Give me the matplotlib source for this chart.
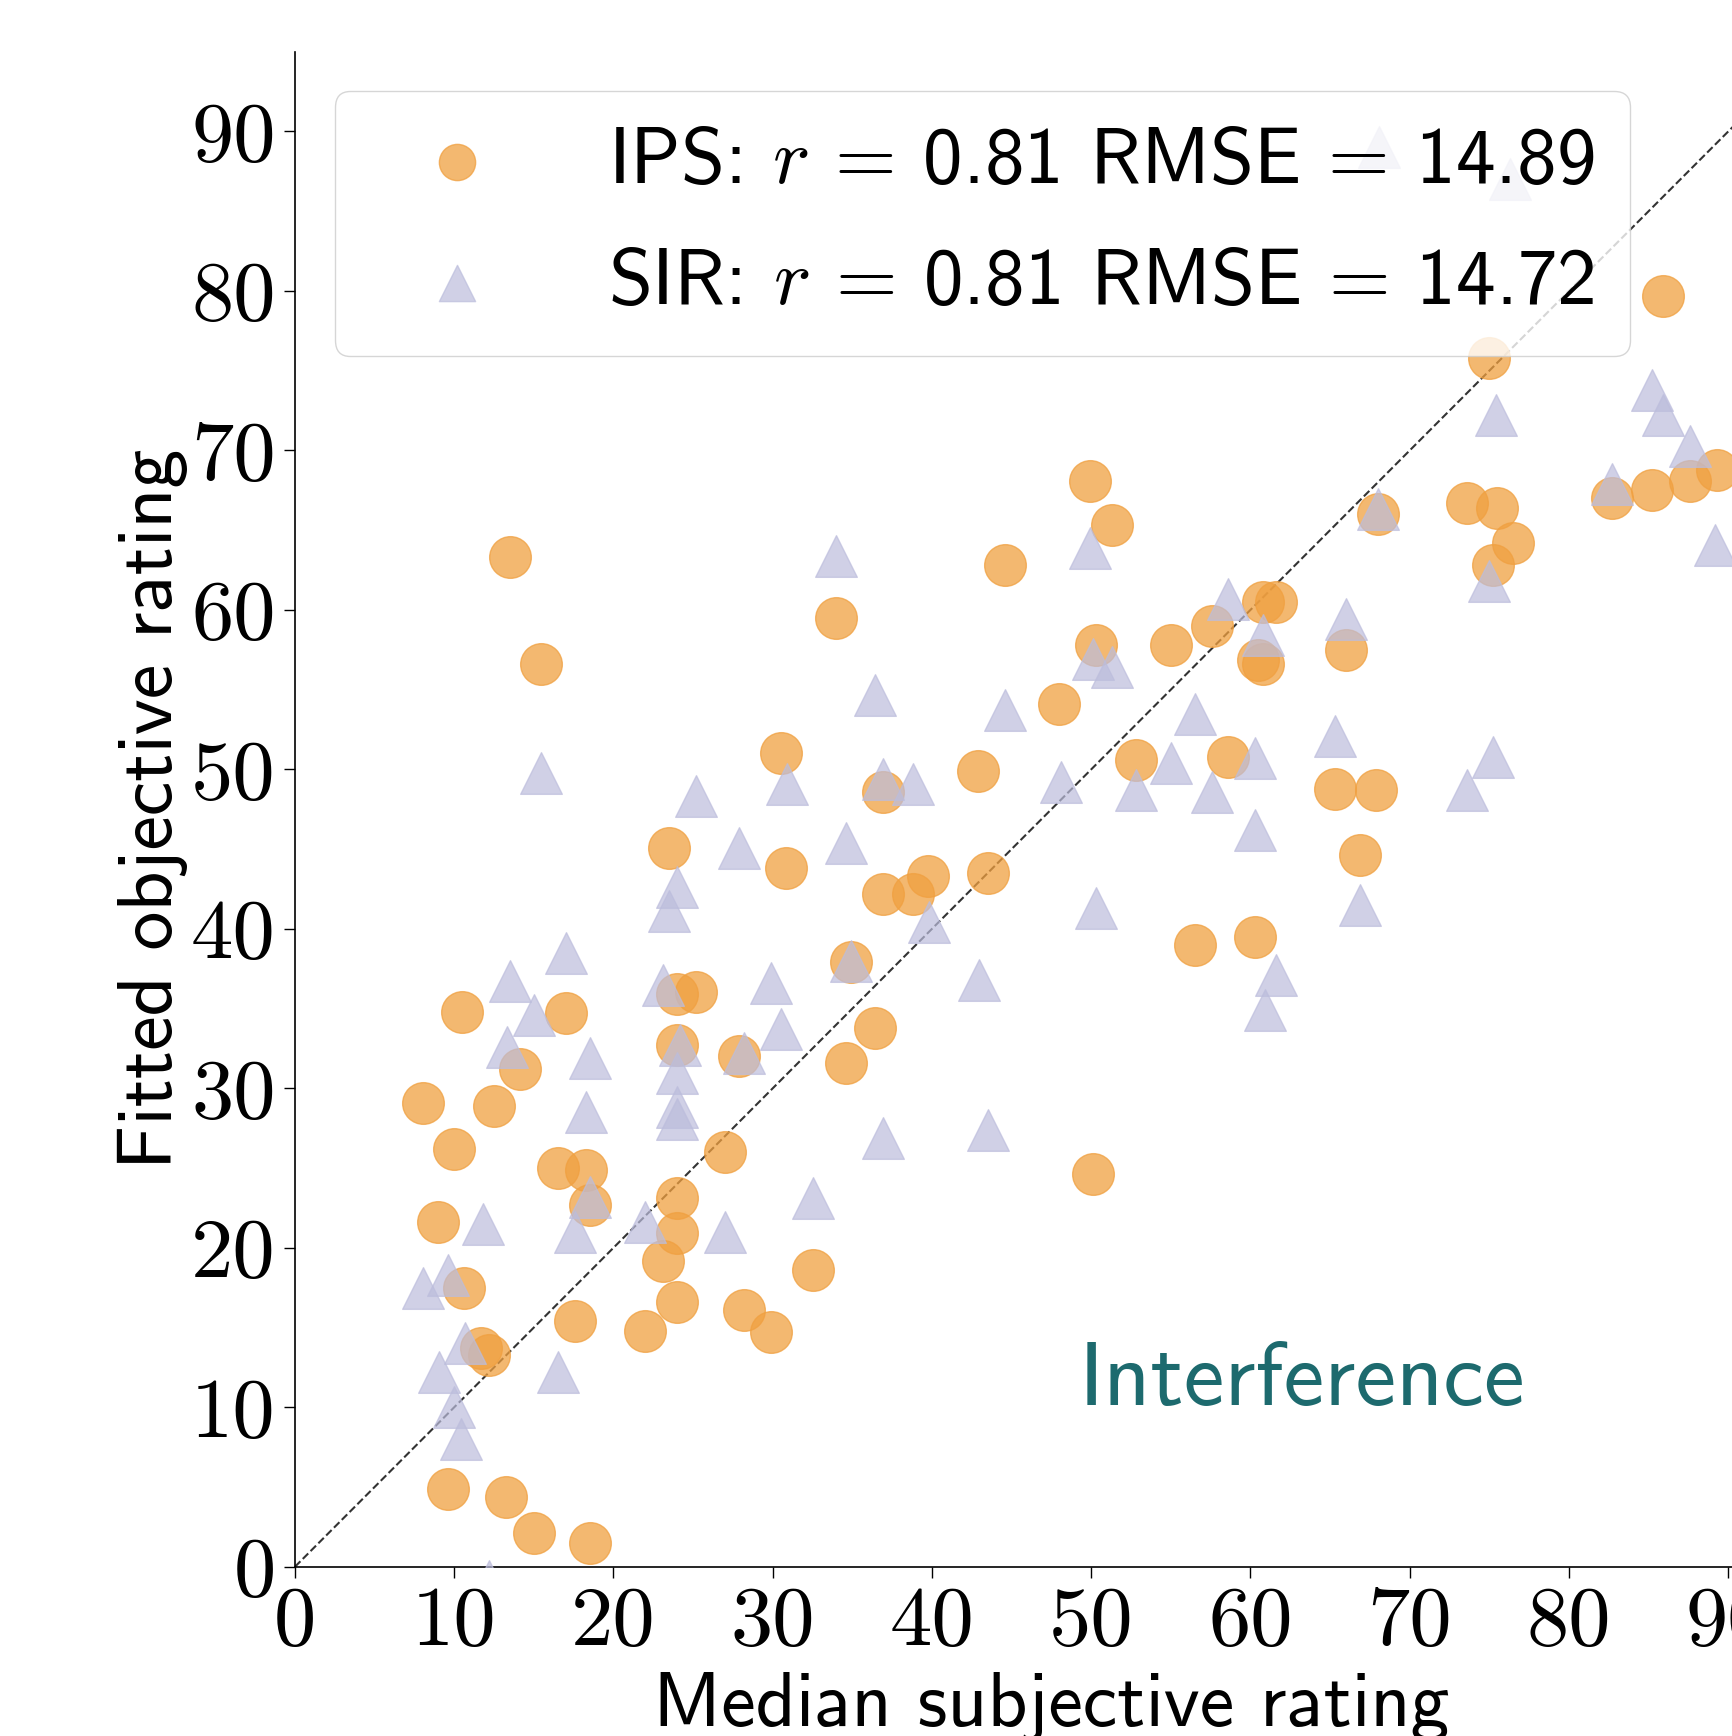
import numpy as np
import matplotlib
matplotlib.use('Agg')
import matplotlib.pyplot as plt

plt.rcParams['font.family'] = 'cmss10'
plt.rcParams['mathtext.fontset'] = 'cm'
plt.rcParams['axes.unicode_minus'] = False

# IPS fitted ratings (orange circles)
ips_x = [13.5, 15.45, 34.0, 49.9, 51.3, 44.6, 50.3, 55.0, 57.6, 60.5, 60.8, 60.8, 61.6,
         66.0, 68.0, 73.6, 75.5, 76.5, 75.2, 75.0, 85.9, 82.7, 85.2, 87.6, 89.3, 48.0,
         52.8, 58.6, 65.3, 67.9, 66.9, 56.5, 60.3, 50.1, 42.9, 43.5, 39.75, 38.8, 36.9,
         36.9, 30.55, 30.85, 34.9, 36.4, 34.6, 23.5, 24.0, 25.2, 24.0, 27.0, 27.9, 24.0,
         24.0, 23.1, 24.0, 22.0, 28.2, 29.9, 32.5, 17.6, 17.0, 16.5, 18.25, 18.5, 14.1,
         12.5, 10.5, 8.05, 10.0, 9.0, 10.6, 11.7, 12.2, 9.6, 13.25, 15.0, 18.5]
ips_y = [63.3, 56.6, 59.5, 68.1, 65.3, 62.8, 57.8, 57.8, 59.0, 56.85, 56.6, 60.5, 60.5,
         57.5, 66.0, 66.7, 66.4, 64.2, 62.8, 75.8, 79.7, 67.0, 67.5, 68.1, 68.8, 54.1,
         50.6, 50.8, 48.8, 48.7, 44.6, 39.0, 39.5, 24.6, 49.9, 43.5, 43.3, 42.2, 42.2,
         48.6, 51.0, 43.8, 37.9, 33.8, 31.6, 45.1, 35.9, 36.05, 32.7, 26.0, 32.0, 23.1,
         20.9, 19.2, 16.6, 14.8, 16.1, 14.7, 18.6, 15.4, 34.7, 25.0, 24.9, 22.7, 31.2,
         28.9, 34.8, 29.1, 26.2, 21.6, 17.5, 13.7, 13.3, 4.9, 4.4, 2.1, 1.5]

# SIR fitted ratings (lavender triangles)
sir_x = [17.0, 13.5, 15.0, 13.3, 18.5, 18.3, 18.5, 11.8, 17.6, 22.0, 27.0, 8.05, 9.6,
         10.7, 9.05, 16.5, 10.0, 10.45, 12.2, 23.5, 24.0, 23.1, 24.2, 24.0, 24.0, 24.0,
         29.9, 30.5, 28.2, 15.45, 25.2, 27.9, 30.9, 34.0, 36.4, 34.6, 36.9, 38.8, 39.8,
         34.9, 42.95, 36.9, 43.5, 32.5, 50.3, 44.6, 48.1, 49.9, 50.1, 51.3, 52.8, 55.0,
         56.5, 57.6, 58.6, 60.8, 60.3, 60.3, 61.6, 60.9, 66.9, 65.3, 66.0, 68.0, 73.6,
         75.2, 75.0, 75.4, 82.7, 85.2, 85.9, 87.6, 89.2, 68.1, 76.3]
sir_y = [38.5, 36.7, 34.6, 32.6, 31.9, 28.5, 23.2, 21.5, 21.0, 21.6, 21.0, 17.5, 18.3,
         14.0, 12.2, 12.2, 10.0, 8.0, -0.9, 41.1, 42.6, 36.5, 32.7, 30.95, 28.8, 28.1,
         36.6, 33.7, 32.2, 49.8, 48.3, 45.1, 49.1, 63.4, 54.65, 45.4, 49.4, 49.1, 40.4,
         38.0, 36.8, 26.9, 27.4, 23.1, 41.3, 53.7, 49.2, 63.9, 56.9, 56.4, 48.7, 50.4,
         53.5, 48.6, 60.7, 58.4, 50.7, 46.2, 37.1, 34.9, 41.5, 52.1, 59.4, 66.3, 48.7,
         50.8, 61.8, 72.2, 67.9, 73.8, 72.2, 70.3, 64.1, 89.0, 87.0]

ips_label = r'IPS: $r$ = 0.81 RMSE = 14.89'
sir_label = r'SIR: $r$ = 0.81 RMSE = 14.72'
ticks = np.arange(0, 100, 10)

fig = plt.figure(figsize=(17.33, 17.36), dpi=100)
ax = fig.add_axes([0.1702, 0.0975, 0.873, 0.8727])

ax.plot([0, 95], [0, 95], ls='--', color='0.2', lw=1.5, zorder=1)
ax.scatter(ips_x, ips_y, s=900, marker='o', color='#F0A040', alpha=0.75,
           label=ips_label, zorder=2)
ax.scatter(sir_x, sir_y, s=900, marker='^', color='#BCBDDC', alpha=0.7,
           label=sir_label, zorder=3)

ax.set_xlim(0, 95)
ax.set_ylim(0, 95)
ax.spines['top'].set_visible(False)
ax.spines['right'].set_visible(False)
ax.spines['left'].set_linewidth(1.2)
ax.spines['bottom'].set_linewidth(1.2)
ax.tick_params(length=8, width=1, pad=6)
ax.set_xticks(ticks, [str(t) for t in ticks], fontfamily='cmr10', fontsize=61)
ax.set_yticks(ticks, [str(t) for t in ticks], fontfamily='cmr10', fontsize=61)

ax.set_xlabel('Median subjective rating', fontsize=56, labelpad=8)
ax.set_ylabel('Fitted objective rating', fontsize=56, labelpad=2)

ax.text(63.2, 11.55, 'Interference', fontsize=66, color='#1d6a6e',
        ha='center', va='center')

ax.legend(loc='upper left', fontsize=57, markerscale=0.87, labelspacing=0.62,
          borderpad=0.45, handlelength=2.2)

fig.savefig('out.png', dpi=100)
